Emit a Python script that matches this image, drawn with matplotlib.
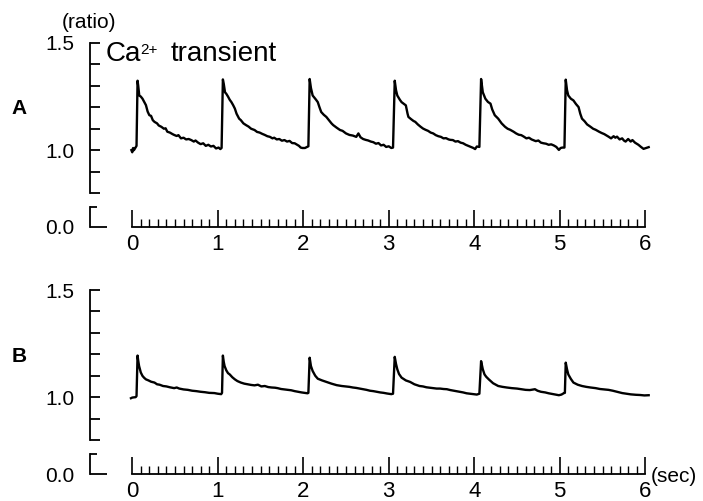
import matplotlib.pyplot as plt
from matplotlib.ticker import FixedLocator

plt.rcParams['font.family'] = ['Liberation Sans', 'DejaVu Sans']

# Trace A (ratio vs time, sec)
time_a = [-0.01, 0.00, 0.01, 0.02, 0.035, 0.05, 0.062, 0.07, 0.082, 0.10, 0.12, 0.14, 0.16, 0.18, 0.20, 0.22,
          0.24, 0.26, 0.29, 0.31, 0.34, 0.37, 0.39, 0.41, 0.44, 0.47, 0.49, 0.52, 0.54, 0.57, 0.60, 0.63,
          0.66, 0.69, 0.72, 0.74, 0.77, 0.80, 0.83, 0.86, 0.89, 0.92, 0.95, 0.98, 1.01, 1.03, 1.045,
          1.06, 1.07, 1.085, 1.10, 1.12, 1.14, 1.16, 1.18, 1.20, 1.22, 1.25, 1.27, 1.30, 1.33, 1.36, 1.39,
          1.43, 1.46, 1.49, 1.52, 1.55, 1.58, 1.61, 1.64, 1.66, 1.69, 1.72, 1.75, 1.78, 1.81, 1.84, 1.87,
          1.90, 1.93, 1.95, 1.97, 1.99, 2.02, 2.045, 2.06,
          2.075, 2.09, 2.11, 2.13, 2.15, 2.17, 2.19, 2.21, 2.24, 2.27, 2.30, 2.33, 2.35, 2.39, 2.43, 2.46,
          2.50, 2.54, 2.58, 2.62, 2.645, 2.67, 2.70, 2.73, 2.76, 2.79, 2.82, 2.85, 2.88, 2.91, 2.94, 2.97,
          3.00, 3.03, 3.05,
          3.07, 3.085, 3.10, 3.13, 3.15, 3.18, 3.20, 3.22, 3.23, 3.26, 3.29, 3.31, 3.34, 3.37, 3.40, 3.43,
          3.46, 3.49, 3.52, 3.55, 3.58, 3.61, 3.64, 3.67, 3.70, 3.72, 3.75, 3.78, 3.81, 3.84, 3.87, 3.90,
          3.93, 3.96, 3.99, 4.01, 4.03, 4.06,
          4.08, 4.10, 4.13, 4.16, 4.19, 4.21, 4.24, 4.28, 4.32, 4.36, 4.39, 4.42, 4.46, 4.49, 4.52, 4.55,
          4.58, 4.61, 4.64, 4.67, 4.69, 4.72, 4.75, 4.78, 4.81, 4.84, 4.87, 4.90, 4.93, 4.96, 4.99, 5.01,
          5.03, 5.055,
          5.07, 5.085, 5.10, 5.13, 5.16, 5.19, 5.22, 5.24, 5.26, 5.29, 5.32, 5.36, 5.39, 5.42, 5.46, 5.49,
          5.52, 5.55, 5.57, 5.60, 5.63, 5.65, 5.67, 5.70, 5.73, 5.75, 5.77, 5.80, 5.83, 5.85, 5.88, 5.90,
          5.92, 5.95, 5.98, 6.01, 6.04]
ratio_a = [1.00, 0.99, 1.01, 1.00, 1.01, 1.02, 1.324, 1.30, 1.255, 1.25, 1.24, 1.225, 1.21, 1.18, 1.163, 1.16,
           1.14, 1.132, 1.125, 1.115, 1.109, 1.10, 1.102, 1.086, 1.082, 1.075, 1.071, 1.066, 1.07, 1.055, 1.058, 1.05,
           1.052, 1.047, 1.04, 1.045, 1.035, 1.028, 1.032, 1.02, 1.025, 1.017, 1.02, 1.008, 1.012, 1.005, 1.01,
           1.33, 1.31, 1.27, 1.263, 1.25, 1.235, 1.224, 1.21, 1.194, 1.17, 1.147, 1.14, 1.125, 1.117, 1.11, 1.10,
           1.094, 1.085, 1.082, 1.076, 1.071, 1.065, 1.062, 1.055, 1.058, 1.05, 1.052, 1.044, 1.047, 1.04, 1.043, 1.033,
           1.032, 1.025, 1.02, 1.012, 1.01, 1.01, 1.015, 1.018,
           1.332, 1.29, 1.255, 1.245, 1.235, 1.224, 1.20, 1.178, 1.165, 1.155, 1.14, 1.125, 1.117, 1.105, 1.094, 1.09,
           1.078, 1.071, 1.068, 1.062, 1.078, 1.06, 1.052, 1.048, 1.045, 1.04, 1.037, 1.03, 1.033, 1.022, 1.025, 1.015,
           1.018, 1.01, 1.012,
           1.324, 1.28, 1.255, 1.235, 1.224, 1.215, 1.209, 1.17, 1.155, 1.145, 1.136, 1.132, 1.12, 1.11, 1.101, 1.095,
           1.09, 1.082, 1.078, 1.07, 1.065, 1.062, 1.055, 1.056, 1.05, 1.048, 1.047, 1.04, 1.042, 1.035, 1.032, 1.025,
           1.02, 1.015, 1.01, 1.005, 1.017, 1.015,
           1.332, 1.27, 1.24, 1.225, 1.217, 1.19, 1.163, 1.147, 1.125, 1.109, 1.10, 1.095, 1.086, 1.078, 1.072, 1.07,
           1.063, 1.055, 1.058, 1.05, 1.047, 1.042, 1.045, 1.035, 1.032, 1.03, 1.025, 1.027, 1.022, 1.015, 1.001, 1.01,
           1.012, 1.012,
           1.329, 1.28, 1.255, 1.24, 1.232, 1.215, 1.201, 1.17, 1.147, 1.135, 1.12, 1.109, 1.10, 1.095, 1.086, 1.08,
           1.075, 1.068, 1.063, 1.055, 1.065, 1.058, 1.063, 1.05, 1.055, 1.045, 1.04, 1.052, 1.04, 1.047, 1.035, 1.03,
           1.025, 1.015, 1.006, 1.01, 1.014]

# Trace B
time_b = [-0.015, 0.00, 0.02, 0.04, 0.05, 0.062, 0.07, 0.08, 0.10, 0.12, 0.14, 0.16, 0.19, 0.22, 0.26, 0.29,
          0.32, 0.36, 0.40, 0.44, 0.49, 0.52, 0.55, 0.60, 0.65, 0.70, 0.75, 0.80, 0.85, 0.90, 0.96, 1.00,
          1.04, 1.05,
          1.06, 1.07, 1.08, 1.10, 1.12, 1.14, 1.17, 1.20, 1.23, 1.27, 1.31, 1.35, 1.39, 1.43, 1.47, 1.51,
          1.55, 1.59, 1.63, 1.67, 1.70, 1.74, 1.78, 1.82, 1.86, 1.90, 1.94, 1.98, 2.02, 2.05, 2.06,
          2.075, 2.09, 2.11, 2.14, 2.17, 2.22, 2.27, 2.33, 2.39, 2.45, 2.50, 2.54, 2.58, 2.62, 2.66, 2.70,
          2.74, 2.78, 2.82, 2.86, 2.90, 2.94, 2.98, 3.03, 3.05,
          3.07, 3.085, 3.10, 3.12, 3.15, 3.20, 3.25, 3.30, 3.36, 3.40, 3.44, 3.48, 3.52, 3.56, 3.60, 3.64,
          3.68, 3.72, 3.76, 3.80, 3.83, 3.87, 3.91, 3.95, 3.99, 4.03, 4.06,
          4.08, 4.10, 4.12, 4.14, 4.17, 4.22, 4.28, 4.33, 4.38, 4.44, 4.50, 4.55, 4.60, 4.65, 4.71, 4.74,
          4.78, 4.83, 4.87, 4.91, 4.95, 4.99, 5.02, 5.05, 5.06,
          5.07, 5.085, 5.10, 5.13, 5.16, 5.21, 5.26, 5.31, 5.36, 5.42, 5.47, 5.52, 5.57, 5.62, 5.67, 5.73,
          5.78, 5.83, 5.89, 5.94, 5.99, 6.04]
ratio_b = [0.995, 0.998, 0.999, 1.00, 1.005, 1.194, 1.17, 1.145, 1.115, 1.099, 1.09, 1.083, 1.078, 1.072, 1.068, 1.06,
           1.058, 1.052, 1.05, 1.046, 1.042, 1.045, 1.04, 1.036, 1.034, 1.03, 1.028, 1.025, 1.023, 1.02, 1.019, 1.016,
           1.014, 1.02,
           1.194, 1.165, 1.145, 1.125, 1.112, 1.106, 1.093, 1.083, 1.075, 1.068, 1.063, 1.06, 1.057, 1.055, 1.058, 1.05,
           1.052, 1.047, 1.045, 1.044, 1.042, 1.038, 1.036, 1.034, 1.032, 1.028, 1.025, 1.022, 1.02, 1.018, 1.02,
           1.184, 1.145, 1.122, 1.10, 1.086, 1.078, 1.071, 1.063, 1.056, 1.052, 1.05, 1.048, 1.045, 1.043, 1.04, 1.037,
           1.034, 1.03, 1.028, 1.025, 1.022, 1.02, 1.017, 1.014, 1.016,
           1.188, 1.155, 1.13, 1.108, 1.091, 1.078, 1.071, 1.06, 1.052, 1.05, 1.046, 1.044, 1.042, 1.04, 1.04, 1.038,
           1.037, 1.033, 1.03, 1.027, 1.025, 1.022, 1.018, 1.016, 1.014, 1.012, 1.016,
           1.168, 1.13, 1.106, 1.095, 1.083, 1.065, 1.052, 1.048, 1.045, 1.042, 1.04, 1.037, 1.034, 1.033, 1.037, 1.03,
           1.025, 1.022, 1.018, 1.015, 1.012, 1.009, 1.012, 1.019, 1.02,
           1.161, 1.13, 1.106, 1.085, 1.068, 1.058, 1.052, 1.048, 1.045, 1.042, 1.038, 1.036, 1.034, 1.03, 1.025, 1.019,
           1.016, 1.013, 1.011, 1.01, 1.008, 1.009]

ratio_ticks = [0.8, 0.9, 1.0, 1.1, 1.2, 1.3, 1.4, 1.5]
ratio_labels = ['', '', '1.0', '', '', '', '', '1.5']
sec_ticks = [0, 1, 2, 3, 4, 5, 6]

W, H = 703, 501
fig = plt.figure(figsize=(W / 100, H / 100), dpi=100)

# minor time ticks every 0.1 s between 0 and 6
minor_sec = [m / 10 for m in range(61) if m % 10 != 0]


def box(left, top, right, bottom):
    return [left / W, 1 - bottom / H, (right - left) / W, (bottom - top) / H]


def panel(top, t, r, letter, letter_y, show_sec):
    # main trace with broken y axis (0.8 - 1.5)
    ax = fig.add_axes(box(89.5, top, 688, top + 150))
    ax.plot(t, r, color='black', lw=1.7)
    ax.set_xlim(-0.5, 6.5)
    ax.set_ylim(0.8, 1.5)
    for s in ['top', 'right', 'bottom']:
        ax.spines[s].set_visible(False)
    ax.spines['left'].set_linewidth(1.3)
    ax.set_xticks([])
    ax.set_yticks(ratio_ticks)
    ax.set_yticklabels(ratio_labels)
    ax.tick_params(axis='y', direction='in', length=7, width=1.3, pad=11, labelsize=15)
    ax.patch.set_visible(False)

    # zero bracket and time axis
    bx = fig.add_axes(box(89.5, top + 164, 688, top + 184))
    bx.set_xlim(-0.5, 6.5)
    bx.set_ylim(0, 1)
    for s in ['top', 'right']:
        bx.spines[s].set_visible(False)
    bx.spines['left'].set_linewidth(1.3)
    bx.spines['bottom'].set_linewidth(1.3)
    bx.spines['bottom'].set_bounds(0, 6)
    bx.set_yticks([0])
    bx.set_yticklabels(['0.0'])
    bx.yaxis.set_minor_locator(FixedLocator([1]))
    bx.tick_params(axis='y', which='major', direction='in', length=12, width=1.3, pad=11, labelsize=15)
    bx.tick_params(axis='y', which='minor', direction='in', length=5, width=1.3)
    bx.set_xticks(sec_ticks)
    bx.xaxis.set_minor_locator(FixedLocator(minor_sec))
    bx.tick_params(axis='x', which='major', direction='in', length=12, width=1.2, pad=5, labelsize=16)
    bx.tick_params(axis='x', which='minor', direction='in', length=6, width=1.0)
    bx.patch.set_visible(False)

    fig.text(19 / W, 1 - letter_y / H, letter, fontsize=15, fontweight='bold',
             ha='center', va='center')
    if show_sec:
        fig.text(651 / W, 1 - (top + 187) / H, '(sec)', fontsize=15, ha='left', va='center')


panel(43, time_a, ratio_a, 'A', 109, False)
panel(290, time_b, ratio_b, 'B', 357, True)

fig.text(89 / W, 1 - 22 / H, '(ratio)', fontsize=15, ha='center', va='center')
# "Ca2+ transient" title, superscript drawn as its own small text
fig.text(106 / W, 1 - 61 / H, 'Ca', fontsize=20, ha='left', va='baseline')
fig.text(140 / W, 1 - 54 / H, '2+', fontsize=11, ha='left', va='baseline')
fig.text(171 / W, 1 - 61 / H, 'transient', fontsize=20, ha='left', va='baseline')

fig.savefig('out.png', dpi=100)
